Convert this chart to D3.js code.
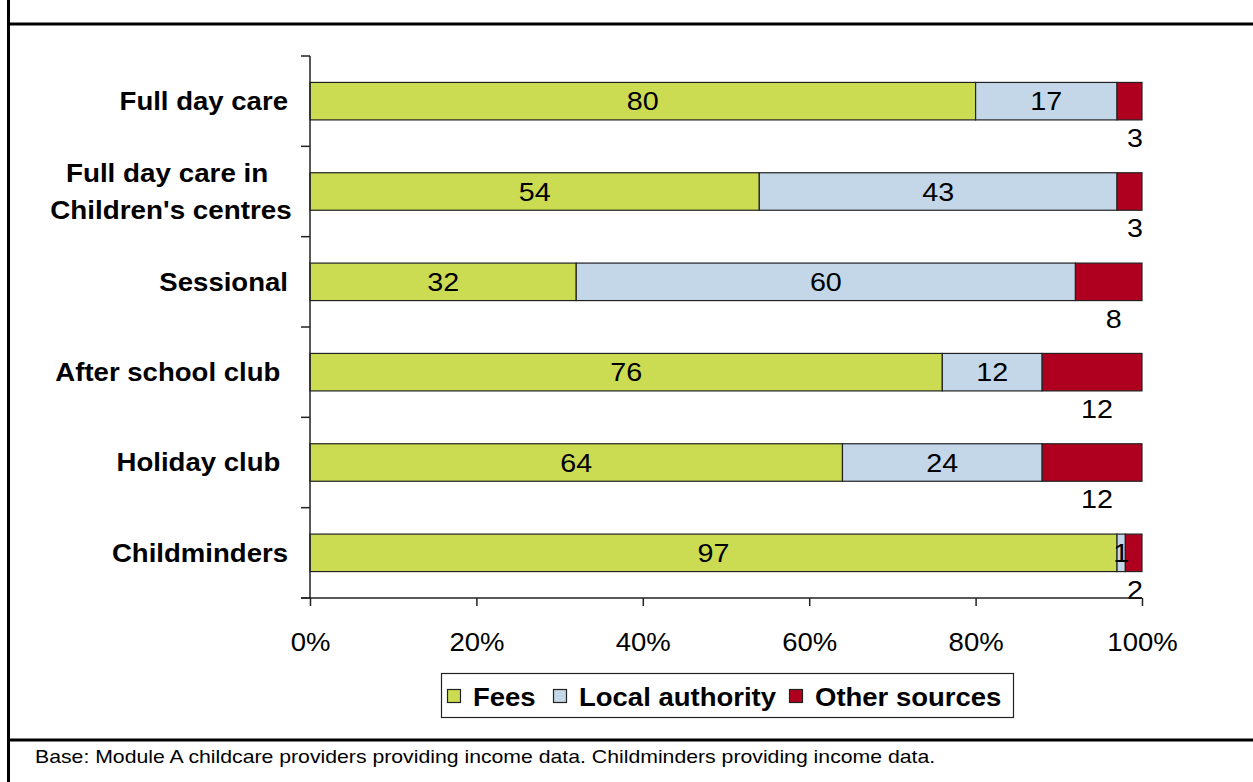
<!DOCTYPE html>
<html>
<head>
<meta charset="utf-8">
<script src="https://cdn.jsdelivr.net/npm/d3@7"></script>
<style>
  html, body { margin: 0; padding: 0; background: #fff; }
  svg { display: block; font-family: "Liberation Sans", Arial, sans-serif; }
</style>
</head>
<body>
<svg id="chart" width="1253" height="782"></svg>
<script>
// Provider types (top to bottom)
const categories = [
  "Full day care",
  "Full day care in\nChildren's centres",
  "Sessional",
  "After school club ",
  "Holiday club ",
  "Childminders"
];
const seriesNames = ["Fees", "Local authority", "Other sources"];
const fees = [80, 54, 32, 76, 64, 97];
const localAuthority = [17, 43, 60, 12, 24, 1];
const otherSources = [3, 3, 8, 12, 12, 2];
const tickValues = [0, 20, 40, 60, 80, 100];
const footnote = "Base: Module A childcare providers providing income data. Childminders providing income data.";

const colors = ["#CCDC52", "#C3D7E8", "#B0001F"];

const rows = categories.map((c, i) => ({
  category: c,
  Fees: fees[i],
  "Local authority": localAuthority[i],
  "Other sources": otherSources[i]
}));

const svg = d3.select("#chart");
const W = 1253, H = 782;
const SX = 1.1; // horizontal text stretch

// Text helper: draws text anchored at (x, y) and stretched horizontally
function label(parent, x, y, str, opts = {}) {
  return parent.append("text")
    .attr("transform", `translate(${x},${y}) scale(${opts.sx || SX},1)`)
    .attr("x", 0).attr("y", 0)
    .attr("dominant-baseline", "central")
    .attr("text-anchor", opts.anchor || "start")
    .attr("font-size", opts.size || 25)
    .attr("font-weight", opts.bold ? "bold" : "normal")
    .attr("fill", "#000")
    .style("white-space", "pre")
    .text(str);
}

// Outer frame lines
svg.append("line").attr("x1", 8.5).attr("x2", 8.5).attr("y1", 0).attr("y2", H)
  .attr("stroke", "#000").attr("stroke-width", 3);
svg.append("line").attr("x1", 8).attr("x2", W).attr("y1", 24).attr("y2", 24)
  .attr("stroke", "#000").attr("stroke-width", 3);
svg.append("line").attr("x1", 8).attr("x2", W).attr("y1", 740).attr("y2", 740)
  .attr("stroke", "#000").attr("stroke-width", 3);

const plot = { left: 310, right: 1142, top: 56, bottom: 598 };

const x = d3.scaleLinear().domain([0, 100]).range([plot.left, plot.right]);
const y = d3.scaleBand().domain(categories).range([plot.top, plot.bottom])
  .paddingInner(0.585).paddingOuter(0.2925);

const stacked = d3.stack().keys(seriesNames)(rows);

const g = svg.append("g");

// Bars
stacked.forEach((layer, si) => {
  g.selectAll(null).data(layer).enter().append("rect")
    .attr("x", d => x(d[0]))
    .attr("y", d => y(d.data.category))
    .attr("width", d => x(d[1]) - x(d[0]))
    .attr("height", y.bandwidth())
    .attr("fill", colors[si])
    .attr("stroke", "#222")
    .attr("stroke-width", 1.2);
});

// Value labels
stacked.forEach((layer, si) => {
  layer.forEach(d => {
    const v = d[1] - d[0];
    const cx = (x(d[0]) + x(d[1])) / 2;
    const cy = y(d.data.category) + y.bandwidth() / 2;
    if (si === 2) {
      // Other sources sit just below the bar
      const by = y(d.data.category) + y.bandwidth() + 18;
      if (v < 5) label(g, x(d[1]) + 1, by, v, { size: 26, sx: 1.105, anchor: "end" });
      else label(g, cx + 5, by, v, { size: 26, sx: 1.105, anchor: "middle" });
    } else {
      label(g, cx, cy, v, { size: 26, sx: 1.105, anchor: "middle" });
    }
  });
});

// Y axis: line plus ticks at band boundaries
const axisColor = "#222";
g.append("line").attr("x1", plot.left).attr("x2", plot.left)
  .attr("y1", plot.top).attr("y2", plot.bottom)
  .attr("stroke", axisColor).attr("stroke-width", 1.5);
d3.range(categories.length + 1).forEach(i => {
  const yy = plot.top + i * (plot.bottom - plot.top) / categories.length;
  g.append("line").attr("x1", plot.left - 9).attr("x2", plot.left)
    .attr("y1", yy).attr("y2", yy)
    .attr("stroke", axisColor).attr("stroke-width", 1.5);
});

// X axis
const xAxis = d3.axisBottom(x).tickValues(tickValues).tickFormat(d => d + "%")
  .tickSize(8).tickPadding(27);
const xa = g.append("g").attr("transform", `translate(0,${plot.bottom})`).call(xAxis);
xa.select(".domain").remove();
xa.append("line").attr("x1", plot.left - 9).attr("x2", plot.right).attr("y1", 0).attr("y2", 0)
  .attr("stroke", axisColor).attr("stroke-width", 1.5);
xa.selectAll(".tick line").attr("stroke", axisColor).attr("stroke-width", 1.5);
xa.selectAll(".tick text").attr("font-size", 25).attr("fill", "#000")
  .attr("font-family", "'Liberation Sans', Arial, sans-serif")
  .attr("transform", `scale(${SX},1)`);

// Category labels
categories.forEach(c => {
  const lines = c.split("\n");
  const cy = y(c) + y.bandwidth() / 2;
  const lh = 37;
  lines.forEach((ln, i) => {
    const yy = cy + (i - (lines.length - 1) / 2) * lh;
    if (lines.length > 1) {
      label(g, 171, yy, ln + (i === 0 ? " " : ""), { size: 26, bold: true, anchor: "middle", sx: 1.07 });
    } else {
      label(g, 288, yy, ln, { size: 26, bold: true, anchor: "end", sx: 1.06 });
    }
  });
});

// Legend
const legend = svg.append("g");
legend.append("rect").attr("x", 441.5).attr("y", 673.5).attr("width", 572).attr("height", 44)
  .attr("fill", "#fff").attr("stroke", "#222").attr("stroke-width", 1.2);
const legendX = [447, 553, 789];
seriesNames.forEach((s, i) => {
  legend.append("rect").attr("x", legendX[i] + 0.5).attr("y", 689.5).attr("width", 13).attr("height", 13)
    .attr("fill", colors[i]).attr("stroke", "#222").attr("stroke-width", 1.2);
  label(legend, legendX[i] + 26, 697, s, { size: 25, bold: true });
});

// Footnote
label(svg, 35, 757, footnote, { size: 18, sx: 1.18 });
</script>
</body>
</html>
